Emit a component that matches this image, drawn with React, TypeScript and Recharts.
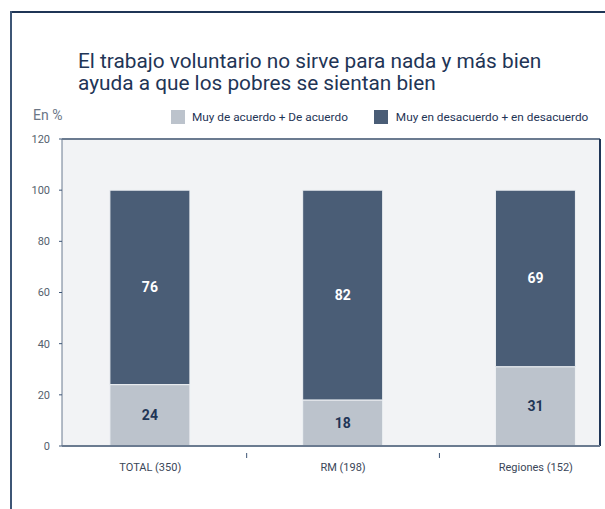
import { BarChart, Bar, XAxis, YAxis, CartesianGrid, ReferenceLine, LabelList } from 'recharts';

const categories = ['TOTAL (350)', 'RM (198)', 'Regiones (152)'];
const deAcuerdo = [24, 18, 31];
const desacuerdo = [76, 82, 69];
const yTicks = [0, 20, 40, 60, 80, 100, 120];
const xTicks = [0, 0.5, 1, 1.5, 2];

const LIGHT = '#bcc3cc';
const DARK = '#4a5d76';
const NAVY = '#1f3556';
const FONT = 'Roboto, "DejaVu Sans", sans-serif';

const data = categories.map((name, i) => ({
  name,
  pos: i,
  acuerdo: deAcuerdo[i],
  desacuerdo: desacuerdo[i],
}));

// integer ticks carry the category name, half ticks are the small marks between groups
function XTick(props: any) {
  const { x, y, payload } = props;
  const v = payload.value;
  if (Number.isInteger(v)) {
    return (
      <text x={x} y={y + 17} textAnchor="middle" fontSize={11} fill="#3a4658" fontFamily={FONT}>
        {categories[v]}
      </text>
    );
  }
  return <line x1={x} x2={x} y1={y - 1} y2={y + 4} stroke="#3e5676" strokeWidth={1} />;
}

export default function App() {
  return (
    <div style={{ position: 'absolute', left: 0, top: 0, width: 605, height: 509, background: '#fff', fontFamily: FONT, overflow: 'hidden' }}>
      <div style={{ position: 'absolute', left: 0, top: 0 }}>
        <BarChart width={605} height={509} data={data} margin={{ top: 139, right: 5, bottom: 33, left: 12 }}>
          <CartesianGrid horizontal={false} vertical={false} fill="#f2f3f5" />
          <XAxis
            type="number"
            dataKey="pos"
            domain={[-0.458, 2.333]}
            ticks={xTicks}
            interval={0}
            height={30}
            axisLine={{ stroke: '#6b7b90', strokeWidth: 2 }}
            tickLine={false}
            tick={<XTick />}
          />
          <YAxis
            domain={[0, 120]}
            ticks={yTicks}
            width={50}
            axisLine={{ stroke: '#6b7b90' }}
            tickLine={{ stroke: '#3e5676' }}
            tickSize={3}
            tickMargin={9}
            tick={{ fontSize: 11, fill: '#555f6d', fontFamily: FONT }}
          />
          <ReferenceLine y={120} stroke="#6b7b90" strokeWidth={2} />
          <ReferenceLine x={2.333} stroke={NAVY} strokeWidth={2} />
          <Bar dataKey="acuerdo" stackId="a" fill={LIGHT} stroke="#eef1f4" strokeWidth={1} barSize={80} isAnimationActive={false}>
            <LabelList dataKey="acuerdo" position="center" fill={NAVY} fontSize={14} fontWeight="bold" fontFamily={FONT} />
          </Bar>
          <Bar dataKey="desacuerdo" stackId="a" fill={DARK} stroke="#eef1f4" strokeWidth={1} barSize={80} isAnimationActive={false}>
            <LabelList dataKey="desacuerdo" position="center" fill="#ffffff" fontSize={14} fontWeight="bold" fontFamily={FONT} />
          </Bar>
        </BarChart>
      </div>
      <div style={{ position: 'absolute', left: 10, top: 11, width: 600, height: 2, background: NAVY }} />
      <div style={{ position: 'absolute', left: 10, top: 11, width: 2, height: 500, background: '#3e5676' }} />
      <div style={{ position: 'absolute', left: 78, top: 50, fontSize: 20.8, lineHeight: '22px', fontWeight: 400, color: NAVY }}>
        El trabajo voluntario no sirve para nada y más bien
        <br />
        ayuda a que los pobres se sientan bien
      </div>
      <div style={{ position: 'absolute', left: 33, top: 107, fontSize: 14, color: '#6b7686' }}>En %</div>
      <div style={{ position: 'absolute', left: 171, top: 110, display: 'flex', alignItems: 'center', fontSize: 11.8, color: NAVY }}>
        <span style={{ width: 14, height: 14, background: LIGHT, marginRight: 7 }} />
        <span>Muy de acuerdo + De acuerdo</span>
        <span style={{ width: 14, height: 14, background: DARK, marginLeft: 26, marginRight: 8 }} />
        <span>Muy en desacuerdo + en desacuerdo</span>
      </div>
    </div>
  );
}
